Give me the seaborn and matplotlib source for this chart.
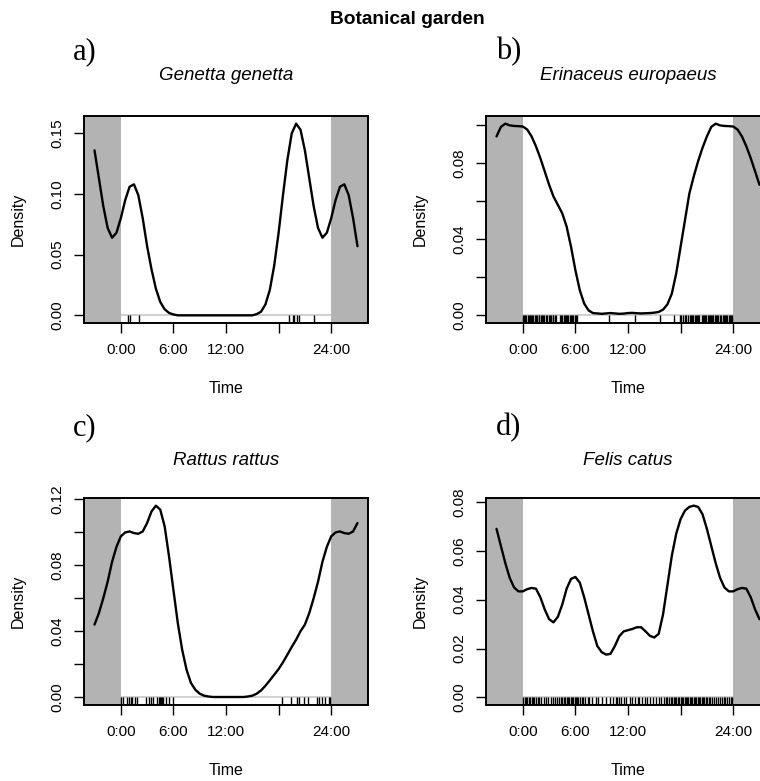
import matplotlib
matplotlib.use("Agg")
import matplotlib.pyplot as plt
import numpy as np
import pandas as pd
import seaborn as sns

# Density curves, every half hour from 0:00 to 23:30
HOURS = np.arange(0, 24, 0.5)

genetta = [0.080, 0.095, 0.106, 0.108, 0.099, 0.080, 0.057, 0.038, 0.022, 0.011,
           0.005, 0.002, 0.0007, 0.0, 0.0, 0.0, 0.0, 0.0, 0.0, 0.0,
           0.0, 0.0, 0.0, 0.0, 0.0, 0.0, 0.0, 0.0, 0.0, 0.0,
           0.0, 0.001, 0.003, 0.009, 0.021, 0.041, 0.068, 0.099, 0.128, 0.150,
           0.158, 0.153, 0.136, 0.113, 0.090, 0.072, 0.064, 0.068]

erinaceus = [0.0992, 0.0976, 0.094, 0.0888, 0.0826, 0.0756, 0.0686, 0.0624, 0.058, 0.0536,
             0.0466, 0.036, 0.0237, 0.0132, 0.0062, 0.0026, 0.0012, 0.0010, 0.0008, 0.0010,
             0.0012, 0.0010, 0.0008, 0.0009, 0.0012, 0.0013, 0.0011, 0.0010, 0.0011, 0.0012,
             0.0014, 0.0018, 0.003, 0.0058, 0.0114, 0.022, 0.036, 0.050, 0.064, 0.073,
             0.081, 0.088, 0.094, 0.099, 0.1007, 0.0998, 0.0995, 0.0994]

rattus = [0.0974, 0.0998, 0.1004, 0.0994, 0.099, 0.1004, 0.1055, 0.1125, 0.116, 0.1136,
          0.1035, 0.0853, 0.065, 0.045, 0.0288, 0.0167, 0.0087, 0.0046, 0.0022, 0.001,
          0.0005, 0.0002, 0.0002, 0.0002, 0.0002, 0.0002, 0.0002, 0.0002, 0.0002, 0.0005,
          0.001, 0.0022, 0.0042, 0.007, 0.0103, 0.0137, 0.0171, 0.0212, 0.0258, 0.0305,
          0.0349, 0.040, 0.044, 0.051, 0.060, 0.070, 0.082, 0.091]

felis = [0.0434, 0.0443, 0.0448, 0.0445, 0.041, 0.036, 0.032, 0.0307, 0.033, 0.038,
         0.0445, 0.0485, 0.0493, 0.047, 0.041, 0.034, 0.027, 0.021, 0.0185, 0.0175,
         0.0178, 0.021, 0.025, 0.027, 0.0275, 0.028, 0.0287, 0.0287, 0.027, 0.0252,
         0.0245, 0.026, 0.034, 0.046, 0.058, 0.067, 0.073, 0.0765, 0.078, 0.0785,
         0.078, 0.075, 0.069, 0.062, 0.055, 0.049, 0.045, 0.0434]

# Detection times (rug), hours
genetta_times = [0.85, 1.05, 2.1, 19.15, 19.6, 19.8, 20.05, 20.35, 22.0]

erinaceus_times = [0.05, 0.15, 0.3, 0.4, 0.55, 0.7, 0.8, 0.95, 1.1, 1.2, 1.35, 1.5, 1.6,
                   1.8, 1.9, 2.05, 2.2, 2.3, 2.45, 2.6, 2.75, 3.0, 3.1, 3.25, 3.4, 3.5,
                   3.65, 3.8, 4.25, 4.4, 4.5, 4.65, 4.8, 4.9, 5.05, 5.2, 5.35, 5.5, 5.6,
                   5.75, 5.9, 6.05, 6.2, 9.85, 12.8, 15.6, 17.2, 17.95, 18.1, 18.3, 18.45,
                   18.6, 18.9, 19.05, 19.2, 19.3, 19.45, 19.6, 19.75, 19.85, 20.0, 20.15,
                   20.4, 20.5, 20.65, 20.8, 20.95, 21.1, 21.2, 21.35, 21.5, 21.6, 21.75,
                   21.9, 22.05, 22.2, 22.3, 22.45, 22.6, 22.8, 22.9, 23.05, 23.2, 23.35,
                   23.5, 23.6, 23.75, 23.9]

rattus_times = [0.05, 0.27, 0.65, 0.88, 1.14, 1.33, 1.6, 1.79, 2.93, 3.24, 3.39, 3.7,
                4.08, 4.3, 4.46, 4.6, 4.72, 4.84, 5.14, 5.5, 5.98, 18.35, 19.4, 20.1,
                20.3, 20.9, 21.3, 22.4, 22.65, 22.9, 23.25, 23.7, 23.9]

felis_times = [0.05, 0.2, 0.35, 0.5, 0.7, 0.85, 1.0, 1.2, 1.3, 1.5, 1.75, 1.9, 2.1, 2.4,
               2.6, 2.9, 3.2, 3.5, 3.7, 3.9, 4.1, 4.35, 4.5, 4.7, 4.85, 5.0, 5.15, 5.3,
               5.45, 5.6, 5.75, 5.9, 6.05, 6.2, 6.35, 6.5, 6.7, 6.9, 7.1, 7.4, 7.6, 7.9,
               8.3, 8.6, 9.0, 9.5, 9.9, 10.3, 10.6, 10.8, 11.0, 11.2, 11.5, 11.8, 12.2,
               12.5, 12.8, 13.1, 13.3, 13.6, 13.9, 14.2, 14.5, 14.9, 15.2, 15.5, 15.8,
               16.1, 16.3, 16.5, 16.7, 16.85, 17.0, 17.2, 17.35, 17.5, 17.65, 17.8, 18.0,
               18.15, 18.3, 18.45, 18.6, 18.75, 18.9, 19.05, 19.2, 19.35, 19.5, 19.65,
               19.8, 19.95, 20.1, 20.25, 20.4, 20.55, 20.7, 20.9, 21.05, 21.2, 21.4,
               21.6, 21.8, 22.0, 22.3, 22.5, 22.7, 22.9, 23.1, 23.3, 23.5, 23.7, 23.9]

species = ["Genetta genetta", "Erinaceus europaeus", "Rattus rattus", "Felis catus"]
letters = ["a)", "b)", "c)", "d)"]
densities = [genetta, erinaceus, rattus, felis]
rugs = [genetta_times, erinaceus_times, rattus_times, felis_times]

x_ticks = [0, 6, 12, 18, 24]
x_labels = ["0:00", "6:00", "12:00", "", "24:00"]
y_ticks = [[0, 0.05, 0.10, 0.15],
           [0, 0.02, 0.04, 0.06, 0.08, 0.10],
           [0, 0.02, 0.04, 0.06, 0.08, 0.10, 0.12],
           [0, 0.02, 0.04, 0.06, 0.08]]
y_labels = [["0.00", "0.05", "0.10", "0.15"],
            ["0.00", "", "0.04", "", "0.08", ""],
            ["0.00", "", "0.04", "", "0.08", "", "0.12"],
            ["0.00", "0.02", "0.04", "0.06", "0.08"]]

sns.set_style("ticks", {"axes.edgecolor": "black", "xtick.color": "black",
                        "ytick.color": "black", "text.color": "black",
                        "axes.labelcolor": "black"})
plt.rcParams["font.family"] = ["Liberation Sans", "DejaVu Sans"]

W, H = 760, 781
fig = plt.figure(figsize=(W / 100, H / 100), dpi=100)

# axes boxes in pixels: left, top (right column runs past the image edge)
boxes = [(84, 116), (486, 116), (84, 498), (486, 498)]
bw, bh = 284, 207

for i in range(4):
    left, top = boxes[i]
    ax = fig.add_axes([left / W, 1 - (top + bh) / H, bw / W, bh / H])

    # wrap the day so the curve runs from -3h to 27h
    vals = list(densities[i])
    x_ext = np.concatenate([HOURS[42:] - 24, HOURS, [24], HOURS[:7] + 24])
    y_ext = vals[42:] + vals + [vals[0]] + vals[:7]
    df = pd.DataFrame({"time": x_ext, "density": y_ext})

    ax.axvspan(-10, 0, color="#b3b3b3", lw=0, zorder=0)
    ax.axvspan(24, 40, color="#b3b3b3", lw=0, zorder=0)
    ax.hlines(0, 0, 24, color="#c8c8c8", lw=1.2, zorder=1)

    sns.lineplot(data=df, x="time", y="density", ax=ax, color="black",
                 lw=1.7, estimator=None, sort=False, zorder=3)
    sns.rugplot(x=rugs[i], ax=ax, height=0.038, color="black", lw=0.7)

    ymax = max(y_ext)
    ax.set_xlim(-4.2, 28.2)
    ax.set_ylim(-0.04 * ymax, 1.04 * ymax)

    ax.set_xticks(x_ticks, x_labels)
    ax.set_yticks(y_ticks[i], y_labels[i])
    ax.tick_params(length=7.2, width=1.0, pad=7, labelsize=11)
    ax.tick_params(axis="y", labelrotation=90)
    for lab in ax.get_yticklabels():
        lab.set_va("center")
    for sp in ax.spines.values():
        sp.set_linewidth(1.4)
        sp.set_visible(True)

    ax.set_xlabel("Time", fontsize=11.5)
    ax.set_ylabel("Density", fontsize=11.5)
    ax.xaxis.set_label_coords(0.5, -0.28)
    ax.yaxis.set_label_coords(-0.204, 0.5)

    cx = (left + bw / 2) / W
    ty = 76 if top < 300 else 460
    fig.text(cx, 1 - ty / H, species[i], ha="center", va="center",
             fontsize=13.5, style="italic")
    lx = 73 if left < 300 else 496
    ly = 52 if top < 300 else 428
    fig.text(lx / W, 1 - ly / H, letters[i], ha="left", va="center",
             fontsize=22, family="Liberation Serif")

fig.text(407 / W, 1 - 20 / H, "Botanical garden", ha="center", va="center",
         fontsize=13.8, fontweight="bold")

fig.savefig("out.png", dpi=100)
